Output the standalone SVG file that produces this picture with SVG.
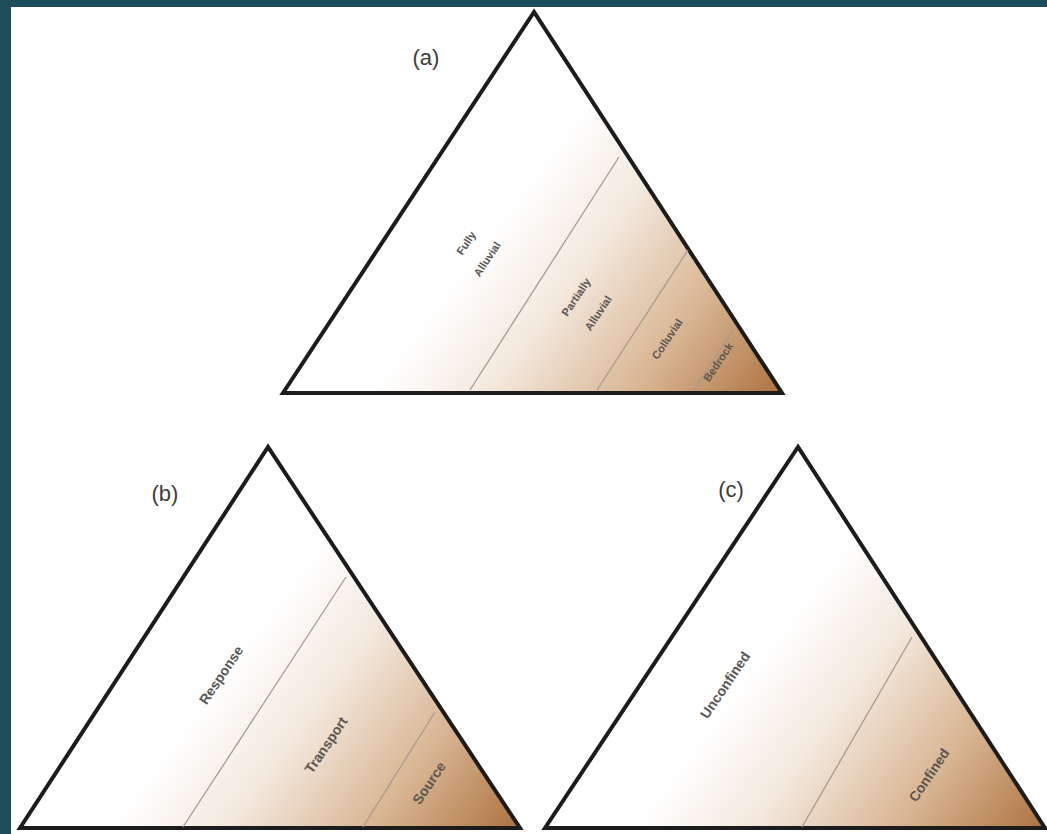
<svg xmlns="http://www.w3.org/2000/svg" width="1047" height="834" viewBox="0 0 1047 834">
  <style>
    .tri { stroke: #1c1c1c; stroke-width: 4; stroke-linejoin: miter; }
    .div { stroke: #a89a8e; stroke-width: 1.3; fill: none; }
    .lbl { font-family: "Liberation Sans", Arial, sans-serif; fill: #5a5652; font-weight: bold; text-anchor: middle; dominant-baseline: central; }
    .tag { font-family: "Liberation Sans", Arial, sans-serif; fill: #3c3c3c; font-size: 22px; text-anchor: middle; dominant-baseline: central; }
  </style>
  <defs>
    <linearGradient id="ga" gradientUnits="userSpaceOnUse" x1="406" y1="111" x2="782" y2="393">
      <stop offset="0" stop-color="#ffffff"/>
      <stop offset="0.3" stop-color="#ffffff"/>
      <stop offset="0.5" stop-color="#f3e8dd"/>
      <stop offset="0.75" stop-color="#d8b592"/>
      <stop offset="1" stop-color="#ad7240"/>
    </linearGradient>
    <linearGradient id="gb" gradientUnits="userSpaceOnUse" x1="144" y1="546" x2="520" y2="828">
      <stop offset="0" stop-color="#ffffff"/>
      <stop offset="0.3" stop-color="#ffffff"/>
      <stop offset="0.5" stop-color="#f3e8dd"/>
      <stop offset="0.75" stop-color="#d8b592"/>
      <stop offset="1" stop-color="#ad7240"/>
    </linearGradient>
    <linearGradient id="gc" gradientUnits="userSpaceOnUse" x1="669" y1="546" x2="1045" y2="828">
      <stop offset="0" stop-color="#ffffff"/>
      <stop offset="0.3" stop-color="#ffffff"/>
      <stop offset="0.5" stop-color="#f3e8dd"/>
      <stop offset="0.75" stop-color="#d8b592"/>
      <stop offset="1" stop-color="#ad7240"/>
    </linearGradient>
  </defs>

  <rect x="0" y="0" width="1047" height="834" fill="#1b4d5a"/>
  <rect x="11" y="7" width="1036" height="827" fill="#ffffff"/>

  <g id="triangle-a">
    <polygon class="tri" points="534,12 283,393 782,393" fill="url(#ga)"/>
    <line class="div" x1="470" y1="390" x2="619" y2="157"/>
    <line class="div" x1="597" y1="390" x2="688" y2="250"/>
    <line class="div" x1="694" y1="390" x2="733" y2="330"/>
    <text class="tag" x="426" y="57">(a)</text>
    <text class="lbl" font-size="11" transform="translate(466,243) rotate(-56)">Fully</text>
    <text class="lbl" font-size="11" transform="translate(487,259) rotate(-56)">Alluvial</text>
    <text class="lbl" font-size="11" transform="translate(576,297) rotate(-56)">Partially</text>
    <text class="lbl" font-size="11" transform="translate(598,313) rotate(-56)">Alluvial</text>
    <text class="lbl" font-size="11" transform="translate(667,339) rotate(-56)">Colluvial</text>
    <text class="lbl" font-size="11" transform="translate(718,362) rotate(-56)">Bedrock</text>
  </g>

  <g id="triangle-b">
    <polygon class="tri" points="268,447 20,828 520,828" fill="url(#gb)"/>
    <line class="div" x1="183" y1="827" x2="346" y2="577"/>
    <line class="div" x1="363" y1="827" x2="435" y2="712"/>
    <text class="tag" x="165" y="493">(b)</text>
    <text class="lbl" font-size="14" transform="translate(221,675) rotate(-56)">Response</text>
    <text class="lbl" font-size="14" transform="translate(326,745) rotate(-56)">Transport</text>
    <text class="lbl" font-size="14" transform="translate(429,783) rotate(-56)">Source</text>
  </g>

  <g id="triangle-c">
    <polygon class="tri" points="798,447 545,828 1045,828" fill="url(#gc)"/>
    <line class="div" x1="802" y1="827" x2="912" y2="637"/>
    <text class="tag" x="731" y="489">(c)</text>
    <text class="lbl" font-size="14" transform="translate(725,685) rotate(-56)">Unconfined</text>
    <text class="lbl" font-size="14" transform="translate(929,775) rotate(-56)">Confined</text>
  </g>

  <g id="connectors"></g>
</svg>
